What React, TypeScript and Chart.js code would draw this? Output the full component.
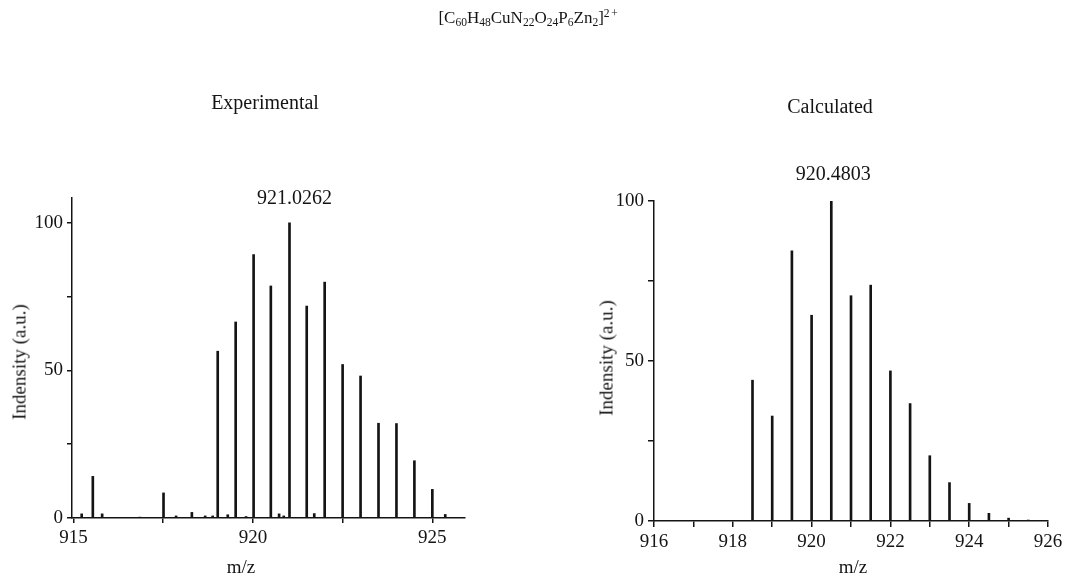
import React, { useEffect, useRef } from 'react';
import { Chart, registerables } from 'chart.js';

Chart.register(...registerables);

// ---------- data ----------
const expMz = [915.23, 915.54, 915.8, 916.85, 917.51, 917.86, 918.3, 918.67, 918.88, 919.02, 919.3, 919.52, 919.81, 920.02, 920.5, 920.73, 920.86, 921.02, 921.5, 921.71, 922.0, 922.5, 923.0, 923.5, 924.0, 924.5, 925.0, 925.36];
const expInt = [1.4, 14.1, 1.4, 0.3, 8.5, 0.7, 1.9, 0.7, 0.7, 56.5, 1.1, 66.4, 0.5, 89.2, 78.6, 1.4, 0.7, 100, 71.8, 1.5, 79.9, 52.0, 48.1, 32.1, 32.0, 19.4, 9.7, 1.2];
const expXTicks = [915, 917.5, 920, 922.5, 925];
const expXLabels = [915, 920, 925];
const expPeakLabel = '921.0262';
const expPeakMz = 921.02;

const calcMz = [918.5, 919.0, 919.5, 920.0, 920.5, 921.0, 921.5, 922.0, 922.5, 923.0, 923.5, 924.0, 924.5, 925.0, 925.5];
const calcInt = [44.0, 32.8, 84.4, 64.3, 100, 70.4, 73.7, 46.9, 36.7, 20.4, 12.0, 5.5, 2.4, 0.9, 0.3];
const calcXTicks = [916, 917, 918, 919, 920, 921, 922, 923, 924, 925, 926];
const calcXLabels = [916, 918, 920, 922, 924, 926];
const calcPeakLabel = '920.4803';
const calcPeakMz = 920.5;

const yTicks = [0, 25, 50, 75, 100];
const yLabels = [0, 50, 100];

const FONT = '"Liberation Serif", "Times New Roman", Times, serif';
const INK = '#141414';

type Cfg = {
  mz: number[];
  int: number[];
  xTicks: number[];
  xLabels: number[];
  xMin: number;
  xMax: number;
  yMax: number;
  peakLabel: string;
  peakMz: number;
  labelDx: number;
  labelDy: number;
  padding: { left: number; right: number; top: number; bottom: number };
  tickLen: number;
};

function makeChart(canvas: HTMLCanvasElement, cfg: Cfg) {
  const peakPlugin = {
    id: 'peakLabel',
    afterDatasetsDraw(chart: any) {
      const { ctx, scales } = chart;
      const idx = cfg.mz.indexOf(cfg.peakMz);
      const px = scales.x.getPixelForValue(cfg.peakMz) + cfg.labelDx;
      const py = scales.y.getPixelForValue(cfg.int[idx]) - cfg.labelDy;
      ctx.save();
      ctx.font = `20px ${FONT}`;
      ctx.fillStyle = INK;
      ctx.textAlign = 'center';
      ctx.textBaseline = 'alphabetic';
      ctx.fillText(cfg.peakLabel, px, py);
      ctx.restore();
    },
  };
  return new Chart(canvas, {
    type: 'bar',
    data: {
      datasets: [
        {
          data: cfg.mz.map((x, i) => ({ x, y: cfg.int[i] })),
          backgroundColor: INK,
          borderWidth: 0,
          barThickness: 2,
        } as any,
      ],
    },
    options: {
      animation: false,
      responsive: false,
      maintainAspectRatio: false,
      layout: { padding: cfg.padding },
      plugins: {
        legend: { display: false },
        tooltip: { enabled: false },
        title: { display: false },
      },
      scales: {
        x: {
          type: 'linear',
          min: cfg.xMin,
          max: cfg.xMax,
          offset: false,
          afterBuildTicks: (s: any) => {
            s.ticks = cfg.xTicks.map((v) => ({ value: v }));
          },
          afterFit: (s: any) => {
            s.height = 40;
          },
          grid: {
            display: true,
            offset: false,
            drawOnChartArea: false,
            drawTicks: true,
            tickLength: cfg.tickLen,
            tickWidth: 1.5,
            lineWidth: 1.5,
            tickColor: INK,
            color: INK,
          },
          border: { display: true, color: INK, width: 1.5 },
          ticks: {
            autoSkip: false,
            maxRotation: 0,
            minRotation: 0,
            padding: 4,
            color: INK,
            font: { family: FONT, size: 19 },
            callback: (v: any) => (cfg.xLabels.includes(Number(v)) ? String(v) : ''),
          },
        } as any,
        y: {
          type: 'linear',
          min: 0,
          max: cfg.yMax,
          afterBuildTicks: (s: any) => {
            s.ticks = yTicks.map((v) => ({ value: v }));
          },
          afterFit: (s: any) => {
            s.width = 60;
          },
          grid: {
            display: true,
            drawOnChartArea: false,
            drawTicks: true,
            tickLength: cfg.tickLen,
            tickWidth: 1.5,
            lineWidth: 1.5,
            tickColor: INK,
            color: INK,
          },
          border: { display: true, color: INK, width: 1.5 },
          ticks: {
            autoSkip: false,
            padding: 4,
            color: INK,
            font: { family: FONT, size: 19 },
            callback: (v: any) => (yLabels.includes(Number(v)) ? String(v) : ''),
          },
        } as any,
      },
    },
    plugins: [peakPlugin],
  });
}

const textBase: React.CSSProperties = {
  position: 'absolute',
  fontFamily: FONT,
  color: INK,
  lineHeight: 1,
  whiteSpace: 'nowrap',
};

function Sub({ children }: { children: React.ReactNode }) {
  return <span style={{ fontSize: '0.68em', verticalAlign: '-0.28em', lineHeight: 0 }}>{children}</span>;
}
function Sup({ children }: { children: React.ReactNode }) {
  return <span style={{ fontSize: '0.68em', verticalAlign: '0.5em', lineHeight: 0, letterSpacing: '0.15em' }}>{children}</span>;
}

export default function App() {
  const leftRef = useRef<HTMLCanvasElement>(null);
  const rightRef = useRef<HTMLCanvasElement>(null);

  useEffect(() => {
    const left = makeChart(leftRef.current!, {
      mz: expMz,
      int: expInt,
      xTicks: expXTicks,
      xLabels: expXLabels,
      xMin: 914.96,
      xMax: 925.91,
      yMax: 108.4,
      peakLabel: expPeakLabel,
      peakMz: expPeakMz,
      labelDx: 5,
      labelDy: 19,
      padding: { left: 12, right: 69, top: 198, bottom: 18 },
      tickLen: 5,
    });
    const right = makeChart(rightRef.current!, {
      mz: calcMz,
      int: calcInt,
      xTicks: calcXTicks,
      xLabels: calcXLabels,
      xMin: 916,
      xMax: 926,
      yMax: 100,
      peakLabel: calcPeakLabel,
      peakMz: calcPeakMz,
      labelDx: 2,
      labelDy: 21,
      padding: { left: 60, right: 21, top: 201, bottom: 15 },
      tickLen: 6,
    });
    return () => {
      left.destroy();
      right.destroy();
    };
  }, []);

  return (
    <div
      style={{
        position: 'absolute',
        left: 0,
        top: 0,
        width: 1069,
        height: 576,
        overflow: 'hidden',
        background: '#ffffff',
      }}
    >
      <canvas ref={leftRef} width={534} height={576} style={{ position: 'absolute', left: 0, top: 0, width: 534, height: 576 }} />
      <canvas ref={rightRef} width={535} height={576} style={{ position: 'absolute', left: 534, top: 0, width: 535, height: 576 }} />

      <div style={{ ...textBase, fontSize: 17, left: 529, top: 9, transform: 'translateX(-50%)' }}>
        [C<Sub>60</Sub>H<Sub>48</Sub>CuN<Sub>22</Sub>O<Sub>24</Sub>P<Sub>6</Sub>Zn<Sub>2</Sub>]<Sup>2+</Sup>
      </div>

      <div style={{ ...textBase, fontSize: 20, left: 265, top: 92, transform: 'translateX(-50%)' }}>Experimental</div>
      <div style={{ ...textBase, fontSize: 20, left: 830, top: 96, transform: 'translateX(-50%)' }}>Calculated</div>

      <div style={{ ...textBase, fontSize: 19, left: 19, top: 362, transform: 'translate(-50%, -50%) rotate(-90deg)' }}>
        Indensity (a.u.)
      </div>
      <div style={{ ...textBase, fontSize: 19, left: 606, top: 358, transform: 'translate(-50%, -50%) rotate(-90deg)' }}>
        Indensity (a.u.)
      </div>

      <div style={{ ...textBase, fontSize: 19, left: 241, top: 557, transform: 'translateX(-50%)' }}>m/z</div>
      <div style={{ ...textBase, fontSize: 19, left: 853, top: 557, transform: 'translateX(-50%)' }}>m/z</div>
    </div>
  );
}
